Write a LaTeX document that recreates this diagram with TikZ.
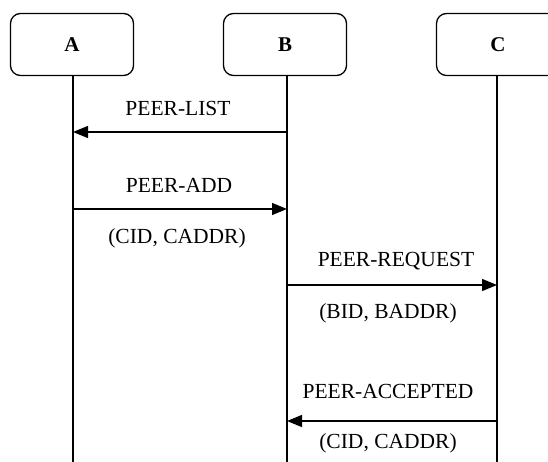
\documentclass[tikz,border=0pt]{standalone}
\usepackage{fontspec}
\setmainfont{Liberation Serif}
\usetikzlibrary{arrows.meta}
\begin{document}
\begin{tikzpicture}[x=1pt,y=-1pt,
  actor/.style={draw, line width=1.3pt, rounded corners=10pt, minimum width=123pt, minimum height=62pt, font=\fontsize{21}{24}\selectfont\bfseries},
  life/.style={line width=1.3pt},
  msg/.style={line width=1.3pt, -{Triangle[length=15pt,width=12pt]}},
  lbl/.style={font=\fontsize{21.5}{24}\selectfont, inner sep=0pt}]
\useasboundingbox (0,0) rectangle (548,462);
\begin{scope}
\clip (0,0) rectangle (548,462);
\node[actor] (A) at (72,44.5) {A};
\node[actor] (B) at (285,44.5) {B};
\node[actor] (C) at (498,44.5) {C};
\end{scope}
\coordinate (Aend) at (73,470);
\coordinate (Bend) at (287,470);
\coordinate (Cend) at (497,470);
\draw[life] (A.south -| Aend) -- (Aend);
\draw[life] (B.south -| Bend) -- (Bend);
\draw[life] (C.south -| Cend) -- (Cend);
% messages
\coordinate (a1) at (73,132);  \coordinate (b1) at (287,132);
\coordinate (a2) at (73,209);  \coordinate (b2) at (287,209);
\coordinate (b3) at (287,285); \coordinate (c3) at (497,285);
\coordinate (b4) at (287,421); \coordinate (c4) at (497,421);
\draw[msg] (b1) -- (a1);
\draw[msg] (a2) -- (b2);
\draw[msg] (b3) -- (c3);
\draw[msg] (c4) -- (b4);
\node[lbl] (l1) at (178,108) {PEER-LIST};
\node[lbl] (l2) at (179,185) {PEER-ADD};
\node[lbl] (l2b) at (177,238) {(CID, CADDR)};
\node[lbl] (l3) at (396,261) {PEER-REQUEST};
\node[lbl] (l3b) at (388,313) {(BID, BADDR)};
\node[lbl] (l4) at (388,391) {PEER-ACCEPTED};
\node[lbl] (l4b) at (388,443) {(CID, CADDR)};
\end{tikzpicture}
\end{document}
